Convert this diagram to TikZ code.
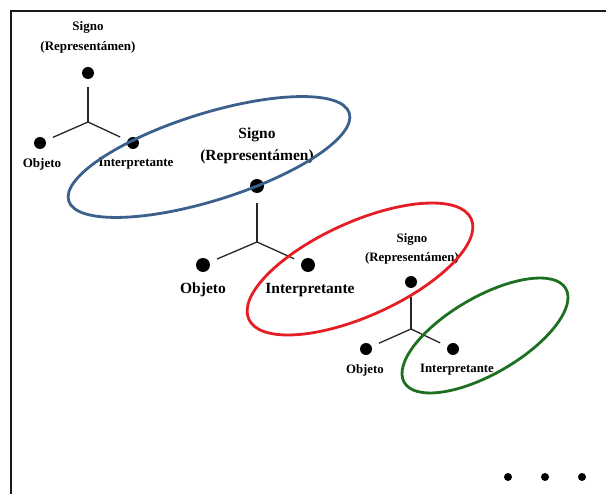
\documentclass[tikz,border=0pt]{standalone}
\usepackage{fontspec}
\setmainfont{Liberation Serif}
\definecolor{ellblue}{RGB}{60,96,140}
\definecolor{ellred}{RGB}{228,30,36}
\definecolor{ellgreen}{RGB}{28,112,32}
\tikzset{
  dotA/.style={circle,fill=black,inner sep=0pt,minimum size=12pt},
  dotB/.style={circle,fill=black,inner sep=0pt,minimum size=14pt},
  smalldot/.style={circle,fill=black,inner sep=0pt,minimum size=8pt},
  arm/.style={draw=black!85,line width=1.3pt,shorten >=8pt},
  lblA/.style={font=\bfseries\fontsize{13}{20}\selectfont,align=center,inner sep=0pt},
  lblB/.style={font=\bfseries\fontsize{15.5}{22}\selectfont,align=center,inner sep=0pt},
  lblC/.style={font=\bfseries\fontsize{12.8}{19}\selectfont,align=center,inner sep=0pt},
  ring/.style={line width=2.8pt},
  frame/.style={line width=1.8pt,black!90}
}
\begin{document}
\begin{tikzpicture}[x=1pt,y=-1pt]
\useasboundingbox (0,0) rectangle (606,494);
% frame (top and left)
\coordinate (fl) at (11,494);
\coordinate (fc) at (11,11);
\coordinate (fr) at (606,11);
\draw[frame] (fl) -- (fc) -- (fr);

% group 1
\node[lblA] (sig1) at (88,37) {Signo\\(Representámen)};
\node[dotA] (s1) at (88,73) {};
\node[dotA] (o1) at (40,143) {};
\node[dotA] (i1) at (133,143) {};
\coordinate (j1) at (88,122);
\node[lblA] (ol1) at (42,164) {Objeto};
\node[lblA] (il1) at (136,164) {Interpretante};
\draw[arm] (j1) -- (s1);
\draw[arm] (j1) -- (o1);
\draw[arm] (j1) -- (i1);

% group 2
\node[lblB] (sig2) at (257,146) {Signo\\(Representámen)};
\node[dotB] (s2) at (257,186) {};
\node[dotB] (o2) at (203,265) {};
\node[dotB] (i2) at (308,265) {};
\coordinate (j2) at (257,242);
\node[lblB] (ol2) at (203,290) {Objeto};
\node[lblB] (il2) at (310,290) {Interpretante};
\draw[arm,shorten >=10pt] (j2) -- (s2);
\draw[arm] (j2) -- (o2);
\draw[arm] (j2) -- (i2);

% group 3
\node[lblC] (sig3) at (412,248.5) {Signo\\(Representámen)};
\node[dotA] (s3) at (411,282) {};
\node[dotA] (o3) at (366,349) {};
\node[dotA] (i3) at (453,349) {};
\coordinate (j3) at (411,329);
\node[lblC] (ol3) at (365,370) {Objeto};
\node[lblC] (il3) at (457,370) {Interpretante};
\draw[arm,shorten >=9pt] (j3) -- (s3);
\draw[arm] (j3) -- (o3);
\draw[arm] (j3) -- (i3);

% ellipses
\draw[ring,ellblue] (209,157) ellipse [x radius=147pt, y radius=43.5pt, rotate=17.4];
\draw[ring,ellred] (360,269) ellipse [x radius=122pt, y radius=47pt, rotate=24.3];
\draw[ring,ellgreen] (485,335.5) ellipse [x radius=93.4pt, y radius=38.3pt, rotate=30.2];

% continuation dots
\node[smalldot] (d1) at (508,477) {};
\node[smalldot] (d2) at (545,477) {};
\node[smalldot] (d3) at (582,477) {};
\end{tikzpicture}
\end{document}
